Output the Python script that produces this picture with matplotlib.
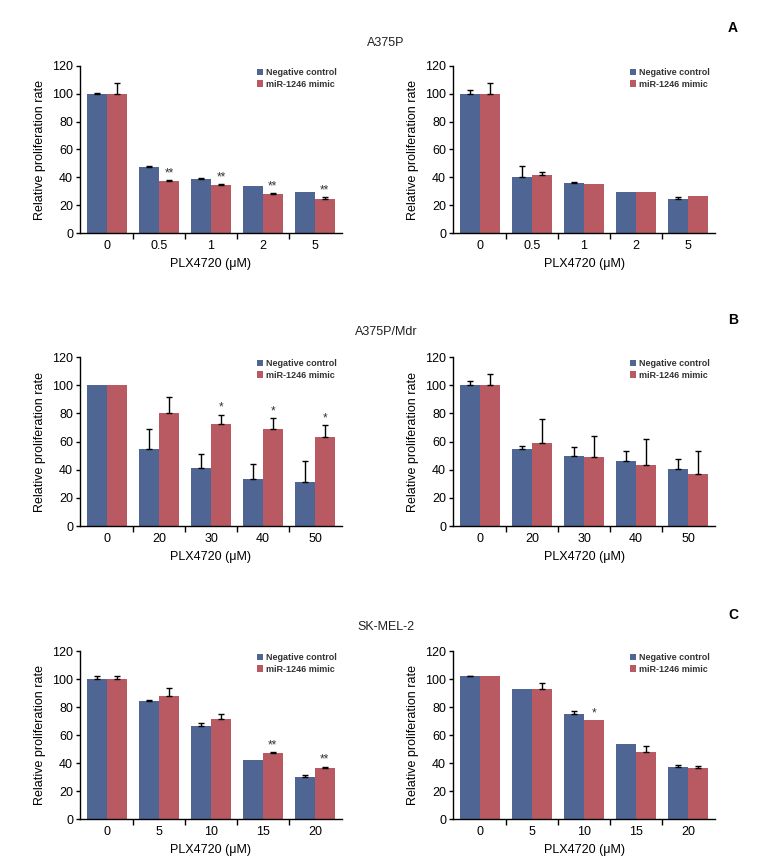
import matplotlib
matplotlib.use("Agg")
import matplotlib.pyplot as plt
import numpy as np

FAM = ['Liberation Sans Narrow', 'Liberation Sans', 'DejaVu Sans']
plt.rcParams['font.family'] = FAM

# ---------------- data ----------------
doses_a = ["0", "0.5", "1", "2", "5"]
doses_b = ["0", "20", "30", "40", "50"]
doses_c = ["0", "5", "10", "15", "20"]

a_left_nc = [100.0, 47.6, 39.0, 33.9, 29.6]
a_left_nc_err = [0.8, 0.7, 0.5, 0.0, 0.0]
a_left_mir = [100.0, 37.5, 34.7, 28.2, 24.6]
a_left_mir_err = [7.8, 0.7, 0.5, 0.7, 1.0]
a_left_sig = ["", "**", "**", "**", "**"]

a_right_nc = [100.0, 40.2, 36.1, 29.6, 24.6]
a_right_nc_err = [2.8, 7.6, 0.9, 0.0, 1.0]
a_right_mir = [100.0, 41.8, 35.4, 29.6, 26.8]
a_right_mir_err = [7.8, 1.7, 0.0, 0.0, 0.0]
a_right_sig = ["", "", "", "", ""]

b_left_nc = [100.0, 54.7, 41.1, 33.3, 31.1]
b_left_nc_err = [0.0, 14.5, 10.2, 10.9, 15.0]
b_left_mir = [100.0, 80.3, 72.5, 68.7, 63.2]
b_left_mir_err = [0.0, 11.4, 6.6, 8.1, 8.6]
b_left_sig = ["", "", "*", "*", "*"]

b_right_nc = [100.0, 54.7, 49.4, 46.1, 40.4]
b_right_nc_err = [2.9, 2.1, 6.9, 7.4, 7.1]
b_right_mir = [100.0, 58.7, 49.0, 43.3, 36.8]
b_right_mir_err = [7.6, 17.6, 15.2, 18.7, 16.7]
b_right_sig = ["", "", "", "", ""]

c_left_nc = [100.3, 84.1, 66.1, 42.1, 29.9]
c_left_nc_err = [1.7, 1.0, 2.3, 0.0, 1.5]
c_left_mir = [100.3, 88.2, 71.1, 47.5, 36.4]
c_left_mir_err = [1.7, 5.7, 3.8, 0.5, 1.1]
c_left_sig = ["", "", "", "**", "**"]

c_right_nc = [102.0, 92.7, 74.9, 53.9, 37.1]
c_right_nc_err = [0.3, 0.0, 2.6, 0.0, 1.4]
c_right_mir = [102.0, 92.7, 70.6, 48.2, 36.4]
c_right_mir_err = [0.0, 4.5, 0.0, 3.6, 1.4]
c_right_sig = ["", "", "*", "", ""]

series_labels = ["Negative control", "miR-1246 mimic"]
titles = ["A375P", "A375P/Mdr", "SK-MEL-2"]
panel_letters = ["A", "B", "C"]
yticks = [0, 20, 40, 60, 80, 100, 120]

BLUE = "#4f6593"
RED = "#b95a62"

fig = plt.figure(figsize=(7.75, 8.63), dpi=100)
W, H = 775, 863

def px_axes(x0, x1, y_top, y_bot):
    return fig.add_axes([x0 / W, 1 - y_bot / H, (x1 - x0) / W, (y_bot - y_top) / H])

def errs(ax, xs, vals, es):
    xs = np.asarray(xs); vals = np.asarray(vals); es = np.asarray(es)
    m = es > 0
    if m.any():
        ax.errorbar(xs[m], vals[m], yerr=[np.zeros(m.sum()), es[m]], fmt='none',
                    ecolor='black', elinewidth=1.0, capsize=2.5, capthick=1.0, zorder=3)

def draw(ax, doses, nc, nce, mir, mire, sig):
    x = np.arange(len(doses))
    bw = 0.38
    ax.bar(x - bw / 2, nc, bw, color=BLUE, label=series_labels[0], zorder=2)
    ax.bar(x + bw / 2, mir, bw, color=RED, label=series_labels[1], zorder=2)
    errs(ax, x - bw / 2, nc, nce)
    errs(ax, x + bw / 2, mir, mire)
    for i, s in enumerate(sig):
        if s:
            ax.text(x[i] + bw / 2, mir[i] + mire[i] + 0.5, s, ha='center', va='bottom',
                    fontsize=8.5, color='#333333')
    ax.set_xlim(-0.52, len(doses) - 0.48)
    ax.set_ylim(0, 120)
    ax.set_yticks(yticks)
    ax.set_xticks(np.arange(len(doses) - 1) + 0.5)
    ax.set_xticklabels([])
    ax.set_xticks(x, minor=True)
    ax.set_xticklabels(doses, minor=True)
    ax.tick_params(axis='x', which='minor', length=0, pad=5, labelsize=9)
    ax.tick_params(axis='x', which='major', length=4, width=1, direction='out')
    ax.tick_params(axis='y', length=3, width=1, direction='out', labelsize=9, pad=2)
    for s in ['top', 'right']:
        ax.spines[s].set_visible(False)
    for s in ['left', 'bottom']:
        ax.spines[s].set_linewidth(1.0)
    ax.set_ylabel("Relative proliferation rate", fontsize=9, labelpad=4)
    ax.set_xlabel("PLX4720 (μM)", fontsize=9, labelpad=4)
    leg = ax.legend(loc='upper right', bbox_to_anchor=(1.0, 1.02), fontsize=6.5,
                    frameon=False, handlelength=0.7, handleheight=0.7,
                    handletextpad=0.3, labelspacing=0.3, borderaxespad=0.2)
    for t in leg.get_texts():
        t.set_fontweight('bold')
        t.set_color('#333333')

rows = [
    (66, 233, doses_a,
     (a_left_nc, a_left_nc_err, a_left_mir, a_left_mir_err, a_left_sig),
     (a_right_nc, a_right_nc_err, a_right_mir, a_right_mir_err, a_right_sig)),
    (357, 526, doses_b,
     (b_left_nc, b_left_nc_err, b_left_mir, b_left_mir_err, b_left_sig),
     (b_right_nc, b_right_nc_err, b_right_mir, b_right_mir_err, b_right_sig)),
    (651, 819, doses_c,
     (c_left_nc, c_left_nc_err, c_left_mir, c_left_mir_err, c_left_sig),
     (c_right_nc, c_right_nc_err, c_right_mir, c_right_mir_err, c_right_sig)),
]

title_y = [43, 332, 627]
letter_y = [28, 320, 615]

for r, (yt, yb, doses, left, right) in enumerate(rows):
    axl = px_axes(80, 342, yt, yb)
    draw(axl, doses, *left)
    axr = px_axes(453, 715, yt, yb)
    draw(axr, doses, *right)
    fig.text(386 / W, 1 - title_y[r] / H, titles[r], ha='center', va='center',
             fontsize=9, color='#222222')
    fig.text(733 / W, 1 - letter_y[r] / H, panel_letters[r], ha='center', va='center',
             fontsize=10, fontweight='bold', family=['Liberation Sans', 'DejaVu Sans'])

fig.savefig("out.png", dpi=100)
